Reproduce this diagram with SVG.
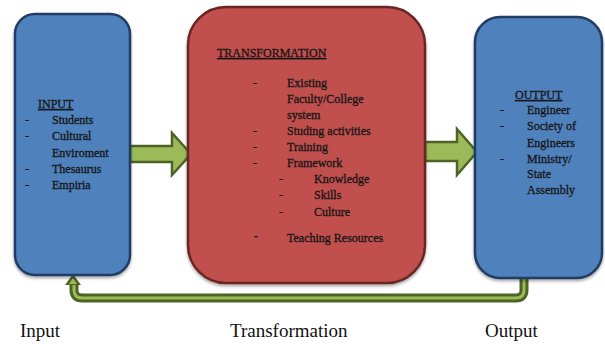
<svg xmlns="http://www.w3.org/2000/svg" width="605" height="344" viewBox="0 0 605 344">
<defs>
<style>
.blue{fill:#4F81BD;stroke:#233E63;stroke-width:2.5}
.red{fill:#C0504D;stroke:#6B2624;stroke-width:2.5}
.arr{fill:#9BBB59;stroke:#4F6228;stroke-width:2.5;stroke-linejoin:miter}
.t{font-family:"Liberation Serif","Times New Roman",serif;font-size:12px;fill:#161616;stroke:#161616;stroke-width:0.3}
.u{text-decoration:underline}
.cap{font-family:"Liberation Serif","Times New Roman",serif;font-size:19px;fill:#111}
</style>
<filter id="sh" x="-10%" y="-10%" width="120%" height="120%">
<feDropShadow dx="0" dy="2" stdDeviation="1.5" flood-color="#000" flood-opacity="0.35"/>
</filter>
</defs>
<g id="connectors">
<path d="M524,277 V290 Q524,298 516,298 H82 Q74,298 74,290 V284" fill="none" stroke="#4F6228" stroke-width="9"/>
<path d="M524,277 V290 Q524,298 516,298 H82 Q74,298 74,290 V284" fill="none" stroke="#9BBB59" stroke-width="3"/>
<polygon points="73,274 81,285 65,285" fill="#4F6228"/>
<polygon points="73,278 77,284 69,284" fill="#9BBB59"/>
<polygon class="arr" points="130,146 172,146 172,133 191,154 172,175 172,162 130,162"/>
<polygon class="arr" points="425,142 457,142 457,129 477,152 457,175 457,161 425,161"/>
</g>
<g id="input">
<rect class="blue" filter="url(#sh)" x="15" y="14" width="115" height="261" rx="20"/>
<text class="t u" x="38" y="108">INPUT</text>
<text class="t" x="25" y="124">-</text><text class="t" x="52" y="124">Students</text>
<text class="t" x="25" y="140">-</text><text class="t" x="52" y="140">Cultural</text>
<text class="t" x="52" y="156.5">Enviroment</text>
<text class="t" x="25" y="172.5">-</text><text class="t" x="52" y="172.5">Thesaurus</text>
<text class="t" x="25" y="189">-</text><text class="t" x="52" y="189">Empiria</text>
</g>
<g id="transformation">
<rect class="red" filter="url(#sh)" x="188" y="7" width="237" height="276" rx="38"/>
<text class="t u" x="217" y="57">TRANSFORMATION</text>
<text class="t" x="253" y="87">-</text><text class="t" x="287" y="87">Existing</text>
<text class="t" x="287" y="103">Faculty/College</text>
<text class="t" x="287" y="119">system</text>
<text class="t" x="253" y="135">-</text><text class="t" x="287" y="135">Studing activities</text>
<text class="t" x="253" y="151">-</text><text class="t" x="287" y="151">Training</text>
<text class="t" x="253" y="167">-</text><text class="t" x="287" y="167">Framework</text>
<text class="t" x="279" y="183">-</text><text class="t" x="314" y="183">Knowledge</text>
<text class="t" x="279" y="199">-</text><text class="t" x="314" y="199">Skills</text>
<text class="t" x="279" y="216">-</text><text class="t" x="314" y="216">Culture</text>
<text class="t" x="254" y="240" style="font-weight:bold">-</text><text class="t" x="287" y="242">Teaching Resources</text>
</g>
<g id="output">
<rect class="blue" filter="url(#sh)" x="475" y="17" width="127" height="261" rx="25"/>
<text class="t u" x="515" y="99">OUTPUT</text>
<text class="t" x="500" y="114">-</text><text class="t" x="527" y="114">Engineer</text>
<text class="t" x="500" y="130">-</text><text class="t" x="527" y="130">Society of</text>
<text class="t" x="527" y="147">Engineers</text>
<text class="t" x="500" y="163">-</text><text class="t" x="527" y="163">Ministry/</text>
<text class="t" x="527" y="178">State</text>
<text class="t" x="527" y="194">Assembly</text>
</g>
<g id="captions">
<text class="cap" x="20" y="337">Input</text>
<text class="cap" x="230" y="337">Transformation</text>
<text class="cap" x="485" y="337">Output</text>
</g>
</svg>
